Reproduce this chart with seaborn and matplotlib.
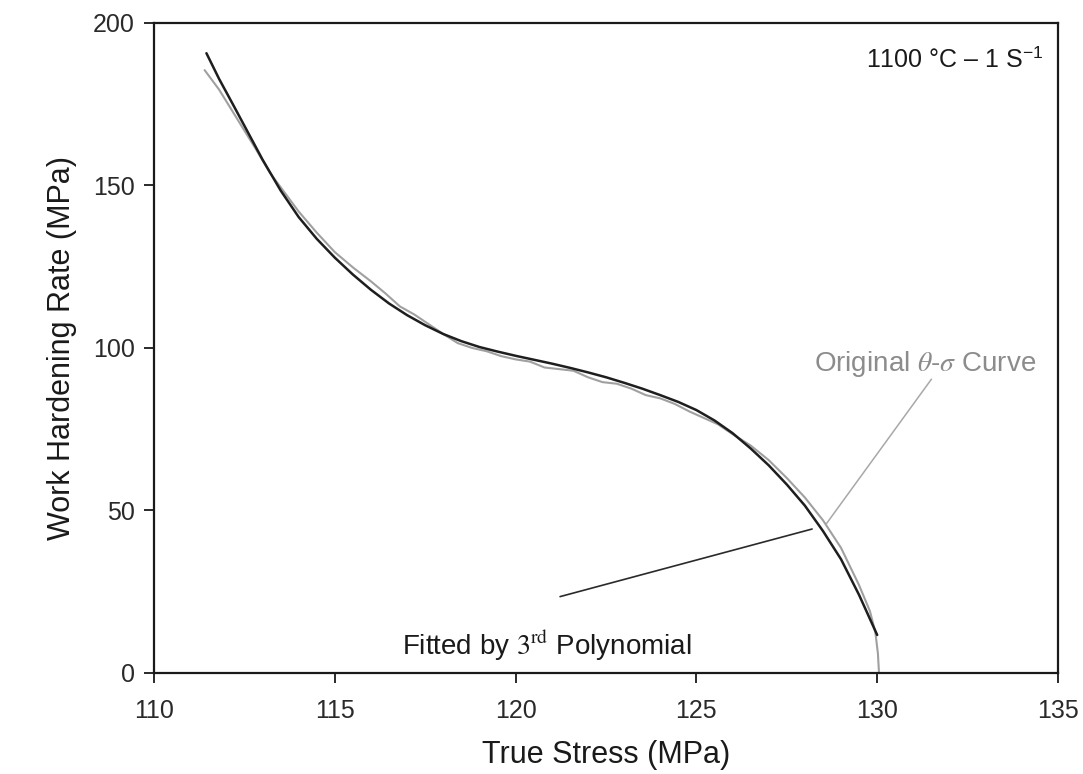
import numpy as np
import pandas as pd
import matplotlib

matplotlib.use('Agg')
import matplotlib.pyplot as plt
import seaborn as sns

# fitted curve (3rd polynomial)
fit_stress = [111.45, 111.8, 112.2, 112.6, 113.0, 113.5, 114.0, 114.5, 115.0, 115.5,
              116.0, 116.5, 117.0, 117.5, 118.0, 118.5, 119.0, 119.5, 120.0, 120.5,
              121.0, 121.5, 122.0, 122.5, 123.0, 123.5, 124.0, 124.5, 125.0, 125.5,
              126.0, 126.5, 127.0, 127.5, 128.0, 128.5, 129.0, 129.5, 130.0]
fit_rate = [190.7, 182.8, 174.6, 166.3, 158.0, 148.5, 140.3, 133.6, 127.8, 122.6,
            117.9, 113.7, 110.1, 107.0, 104.3, 102.1, 100.3, 98.9, 97.6, 96.4,
            95.2, 93.9, 92.5, 91.0, 89.3, 87.5, 85.5, 83.4, 80.9, 77.7,
            73.8, 69.1, 63.9, 58.0, 51.5, 43.7, 35.0, 24.0, 11.7]

# original theta-sigma curve
orig_stress = [111.4, 111.8, 112.3, 112.8, 113.2, 113.6, 114.0, 114.5, 115.0, 115.5,
               116.0, 116.4, 116.8, 117.2, 117.6, 118.0, 118.4, 118.8, 119.2, 119.6,
               120.0, 120.4, 120.8, 121.2, 121.6, 122.0, 122.4, 122.8, 123.2, 123.6,
               124.0, 124.4, 124.8, 125.2, 125.6, 126.0, 126.5, 127.0, 127.5, 128.0,
               128.5, 129.0, 129.5, 129.8, 129.95, 130.02, 130.05]
orig_rate = [185.5, 179.5, 170.5, 161.5, 154.0, 148.0, 142.0, 135.5, 129.5, 124.8,
             120.5, 116.8, 112.8, 110.3, 107.3, 104.3, 101.5, 100.0, 99.0, 97.5,
             96.5, 95.8, 94.0, 93.5, 93.0, 91.0, 89.5, 89.0, 87.5, 85.5,
             84.5, 82.8, 80.5, 78.5, 76.5, 73.5, 70.0, 65.5, 60.0, 54.0,
             47.0, 38.5, 27.0, 19.0, 12.5, 6.0, 0.0]

# leader lines for the annotations
fit_leader_x = [121.23, 128.2]
fit_leader_y = [23.5, 44.3]
orig_leader_x = [128.6, 131.5]
orig_leader_y = [46.0, 90.4]

sns.set_style('ticks')
plt.rcParams['font.family'] = ['Liberation Sans', 'DejaVu Sans']
plt.rcParams['mathtext.fontset'] = 'stix'

fit_df = pd.DataFrame({'stress': fit_stress, 'rate': fit_rate})
orig_df = pd.DataFrame({'stress': orig_stress, 'rate': orig_rate})

fig = plt.figure(figsize=(10.83, 7.74), dpi=100)
ax = fig.add_axes([0.1422, 0.1305, 0.8347, 0.8398])

sns.lineplot(data=orig_df, x='stress', y='rate', sort=False, color='#a0a0a0',
             linewidth=1.5, ax=ax)
sns.lineplot(data=fit_df, x='stress', y='rate', sort=False, color='#1e1e1e',
             linewidth=1.8, ax=ax)

ax.plot(fit_leader_x, fit_leader_y, color='#2a2a2a', linewidth=1.2)
ax.plot(orig_leader_x, orig_leader_y, color='#a8a8a8', linewidth=1.1)

ax.text(131.33, 95.0, r'Original $\theta$-$\sigma$ Curve', color='#8c8c8c',
        fontsize=20, ha='center', va='center')
ax.text(116.85, 8.5, r'Fitted by $\mathrm{3^{rd}}$ Polynomial', color='#1a1a1a',
        fontsize=20, ha='left', va='center')
ax.text(134.6, 188.5, '1100 °C – 1 S$^{\\mathregular{-1}}$', color='#1a1a1a',
        fontsize=18, ha='right', va='center')

ax.set_xlim(110, 135)
ax.set_ylim(0, 200)
ax.set_xticks(np.arange(110, 136, 5))
ax.set_yticks(np.arange(0, 201, 50))
ax.set_xlabel('True Stress (MPa)', fontsize=22, labelpad=12, color='#1a1a1a')
ax.set_ylabel('Work Hardening Rate (MPa)', fontsize=22, labelpad=11, color='#1a1a1a')
ax.tick_params(direction='out', length=7, width=1.4, labelsize=18, pad=7,
               colors='#2a2a2a')
ax.tick_params(axis='x', pad=12)
for sp in ax.spines.values():
    sp.set_visible(True)
    sp.set_linewidth(1.6)
    sp.set_color('#1a1a1a')

fig.savefig('out.png', dpi=100)
